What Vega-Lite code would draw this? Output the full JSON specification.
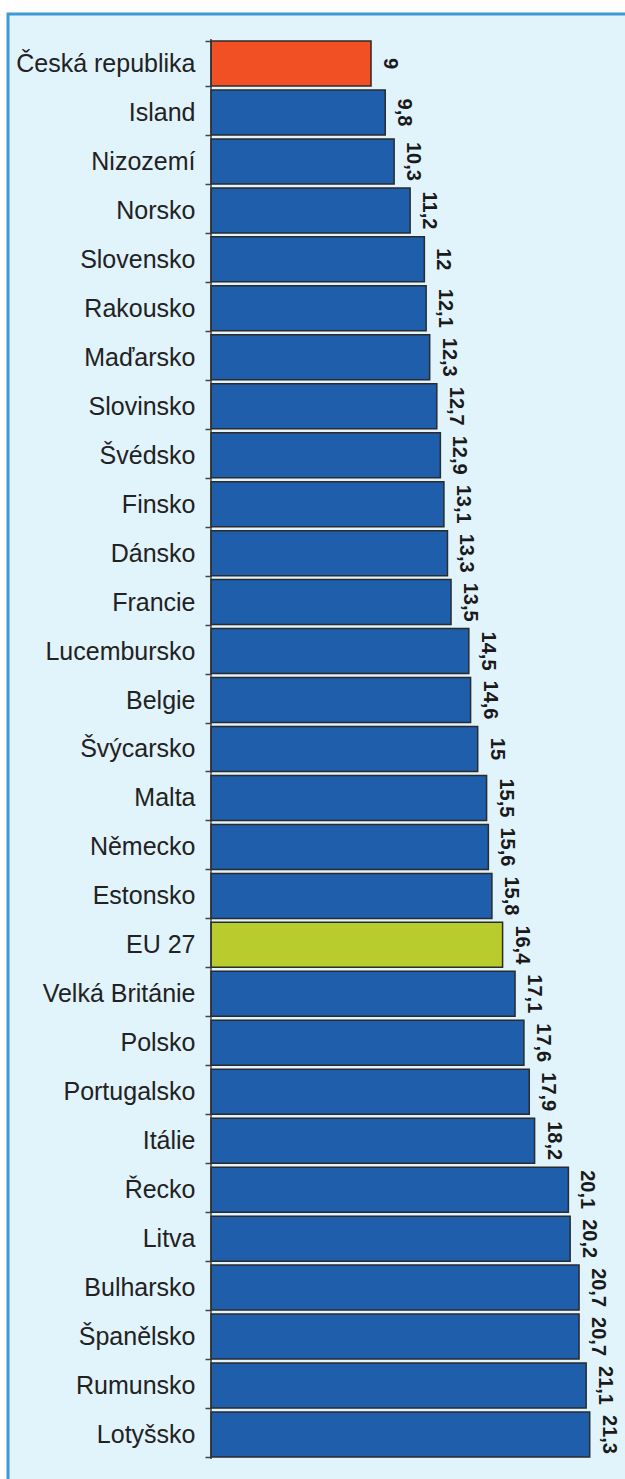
{
  "$schema": "https://vega.github.io/schema/vega-lite/v6.json",
  "autosize": {"type": "none"},
  "width": 640,
  "height": 1472,
  "padding": {"left": 8, "top": 14, "right": 0, "bottom": 0},
  "background": "white",
  "config": {
    "view": {"fill": "#e1f3fb", "stroke": "#3d9ad6", "strokeWidth": 3},
    "locale": {"number": {"decimal": ",", "thousands": " ", "grouping": [3], "currency": ["", ""]}}
  },
  "data": {
    "values": [
      {"country": "Česká republika", "value": 9, "group": "cz"},
      {"country": "Island", "value": 9.8, "group": "other"},
      {"country": "Nizozemí", "value": 10.3, "group": "other"},
      {"country": "Norsko", "value": 11.2, "group": "other"},
      {"country": "Slovensko", "value": 12, "group": "other"},
      {"country": "Rakousko", "value": 12.1, "group": "other"},
      {"country": "Maďarsko", "value": 12.3, "group": "other"},
      {"country": "Slovinsko", "value": 12.7, "group": "other"},
      {"country": "Švédsko", "value": 12.9, "group": "other"},
      {"country": "Finsko", "value": 13.1, "group": "other"},
      {"country": "Dánsko", "value": 13.3, "group": "other"},
      {"country": "Francie", "value": 13.5, "group": "other"},
      {"country": "Lucembursko", "value": 14.5, "group": "other"},
      {"country": "Belgie", "value": 14.6, "group": "other"},
      {"country": "Švýcarsko", "value": 15, "group": "other"},
      {"country": "Malta", "value": 15.5, "group": "other"},
      {"country": "Německo", "value": 15.6, "group": "other"},
      {"country": "Estonsko", "value": 15.8, "group": "other"},
      {"country": "EU 27", "value": 16.4, "group": "eu"},
      {"country": "Velká Británie", "value": 17.1, "group": "other"},
      {"country": "Polsko", "value": 17.6, "group": "other"},
      {"country": "Portugalsko", "value": 17.9, "group": "other"},
      {"country": "Itálie", "value": 18.2, "group": "other"},
      {"country": "Řecko", "value": 20.1, "group": "other"},
      {"country": "Litva", "value": 20.2, "group": "other"},
      {"country": "Bulharsko", "value": 20.7, "group": "other"},
      {"country": "Španělsko", "value": 20.7, "group": "other"},
      {"country": "Rumunsko", "value": 21.1, "group": "other"},
      {"country": "Lotyšsko", "value": 21.3, "group": "other"}
    ]
  },
  "encoding": {
    "y": {
      "field": "country",
      "type": "nominal",
      "sort": null,
      "scale": {"paddingInner": 0.081, "paddingOuter": 0.572, "align": 0.482},
      "axis": {
        "title": null,
        "domain": false,
        "grid": false,
        "offset": -203,
        "tickBand": "extent",
        "tickSize": 6,
        "tickColor": "#444444",
        "tickWidth": 1.5,
        "labelPadding": 10,
        "labelFont": "Liberation Sans",
        "labelFontSize": 25,
        "labelColor": "#222222",
        "labelLimit": 300
      }
    }
  },
  "layer": [
    {
      "mark": {"type": "bar", "stroke": "#2b2b2b", "strokeWidth": 1.5},
      "encoding": {
        "x": {
          "field": "value",
          "type": "quantitative",
          "scale": {"domain": [-11.417, 24.578], "nice": false},
          "axis": null
        },
        "color": {
          "field": "group",
          "type": "nominal",
          "scale": {"domain": ["cz", "other", "eu"], "range": ["#f05023", "#1e5eab", "#b8cc2e"]},
          "legend": null
        }
      }
    },
    {
      "mark": {"type": "tick", "thickness": 2, "size": 49, "color": "#333333"},
      "encoding": {
        "x": {"datum": 0, "type": "quantitative"}
      }
    },
    {
      "mark": {
        "type": "text",
        "angle": 90,
        "align": "center",
        "baseline": "alphabetic",
        "dy": -13,
        "font": "Liberation Sans",
        "fontSize": 20,
        "fontWeight": "bold",
        "color": "#1a1a1a"
      },
      "encoding": {
        "x": {"field": "value", "type": "quantitative"},
        "text": {"field": "value", "type": "quantitative", "format": ".3~r"}
      }
    }
  ]
}
